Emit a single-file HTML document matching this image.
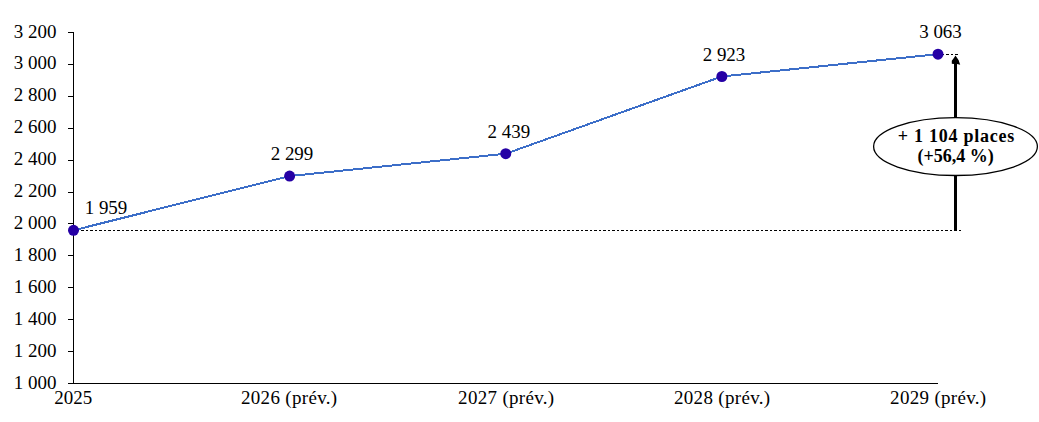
<!DOCTYPE html>
<html><head><meta charset="utf-8">
<style>
html,body{margin:0;padding:0;background:#fff;}
body{width:1039px;height:422px;overflow:hidden;}
svg{display:block;}
text{font-family:"Liberation Serif",serif;fill:#000;}
</style></head>
<body>
<svg width="1039" height="422" viewBox="0 0 1039 422">
<g font-size="18" text-anchor="end">
<text transform="translate(56.50,37.50) scale(1.055,1)">3 200</text>
<text transform="translate(56.50,69.41) scale(1.055,1)">3 000</text>
<text transform="translate(56.50,101.32) scale(1.055,1)">2 800</text>
<text transform="translate(56.50,133.23) scale(1.055,1)">2 600</text>
<text transform="translate(56.50,165.14) scale(1.055,1)">2 400</text>
<text transform="translate(56.50,197.04) scale(1.055,1)">2 200</text>
<text transform="translate(56.50,228.95) scale(1.055,1)">2 000</text>
<text transform="translate(56.50,260.86) scale(1.055,1)">1 800</text>
<text transform="translate(56.50,292.77) scale(1.055,1)">1 600</text>
<text transform="translate(56.50,324.68) scale(1.055,1)">1 400</text>
<text transform="translate(56.50,356.59) scale(1.055,1)">1 200</text>
<text transform="translate(56.50,388.50) scale(1.055,1)">1 000</text>
</g>
<g stroke="#000" stroke-width="1" shape-rendering="crispEdges">
<line x1="73.5" y1="32" x2="73.5" y2="384"/>
<line x1="68" y1="383.5" x2="938" y2="383.5"/>
<line x1="68" y1="32.5" x2="73" y2="32.5"/>
<line x1="68" y1="64.5" x2="73" y2="64.5"/>
<line x1="68" y1="96.5" x2="73" y2="96.5"/>
<line x1="68" y1="128.5" x2="73" y2="128.5"/>
<line x1="68" y1="160.5" x2="73" y2="160.5"/>
<line x1="68" y1="192.5" x2="73" y2="192.5"/>
<line x1="68" y1="223.5" x2="73" y2="223.5"/>
<line x1="68" y1="255.5" x2="73" y2="255.5"/>
<line x1="68" y1="287.5" x2="73" y2="287.5"/>
<line x1="68" y1="319.5" x2="73" y2="319.5"/>
<line x1="68" y1="351.5" x2="73" y2="351.5"/>
</g>
<g stroke="#000" stroke-width="1" stroke-dasharray="2 2 3 2" shape-rendering="crispEdges">
<line x1="77" y1="230.5" x2="961" y2="230.5"/>
<line x1="942" y1="54.5" x2="959.5" y2="54.5"/>
</g>
<polyline points="73.50,230.30 289.62,176.05 505.75,153.71 721.88,76.49 938.00,54.16" fill="none" stroke="#3C6EC8" stroke-width="2" shape-rendering="crispEdges"/>
<g fill="#2500A5">
<circle cx="73.50" cy="230.30" r="5.5"/>
<circle cx="289.62" cy="176.05" r="5.5"/>
<circle cx="505.75" cy="153.71" r="5.5"/>
<circle cx="721.88" cy="76.49" r="5.5"/>
<circle cx="938.00" cy="54.16" r="5.5"/>
</g>
<g font-size="18" text-anchor="middle">
<text transform="translate(106.00,214.00) scale(1.055,1)">1 959</text>
<text transform="translate(292.00,160.00) scale(1.055,1)">2 299</text>
<text transform="translate(508.80,138.30) scale(1.055,1)">2 439</text>
<text transform="translate(724.00,60.80) scale(1.055,1)">2 923</text>
<text transform="translate(940.50,38.00) scale(1.055,1)">3 063</text>
</g>
<g font-size="18" text-anchor="middle">
<text transform="translate(73.30,404.00) scale(1.055,1)">2025</text>
<text transform="translate(289.20,404.00) scale(1.055,1)" letter-spacing="0.3">2026 (prév.)</text>
<text transform="translate(506.30,404.00) scale(1.055,1)" letter-spacing="0.3">2027 (prév.)</text>
<text transform="translate(722.20,404.00) scale(1.055,1)" letter-spacing="0.3">2028 (prév.)</text>
<text transform="translate(938.30,404.00) scale(1.055,1)" letter-spacing="0.3">2029 (prév.)</text>
</g>
<line x1="955.5" y1="230.5" x2="955.5" y2="62" stroke="#000" stroke-width="3"/>
<polygon points="955.5,55.5 957.5,58.5 958.8,60.5 959.2,62 960.2,64.8 957,64 954,64 951.8,63.8 951.8,60.8 953.5,58.5" fill="#000"/>
<ellipse cx="955.5" cy="146.6" rx="81.9" ry="28.9" fill="#fff" stroke="#000" stroke-width="1.3"/>
<g font-size="18" font-weight="bold" text-anchor="middle">
<text x="956.3" y="142.3" letter-spacing="0.75">+ 1 104 places</text>
<text x="955.7" y="161.7">(+56,4 %)</text>
</g>
</svg>
</body></html>
